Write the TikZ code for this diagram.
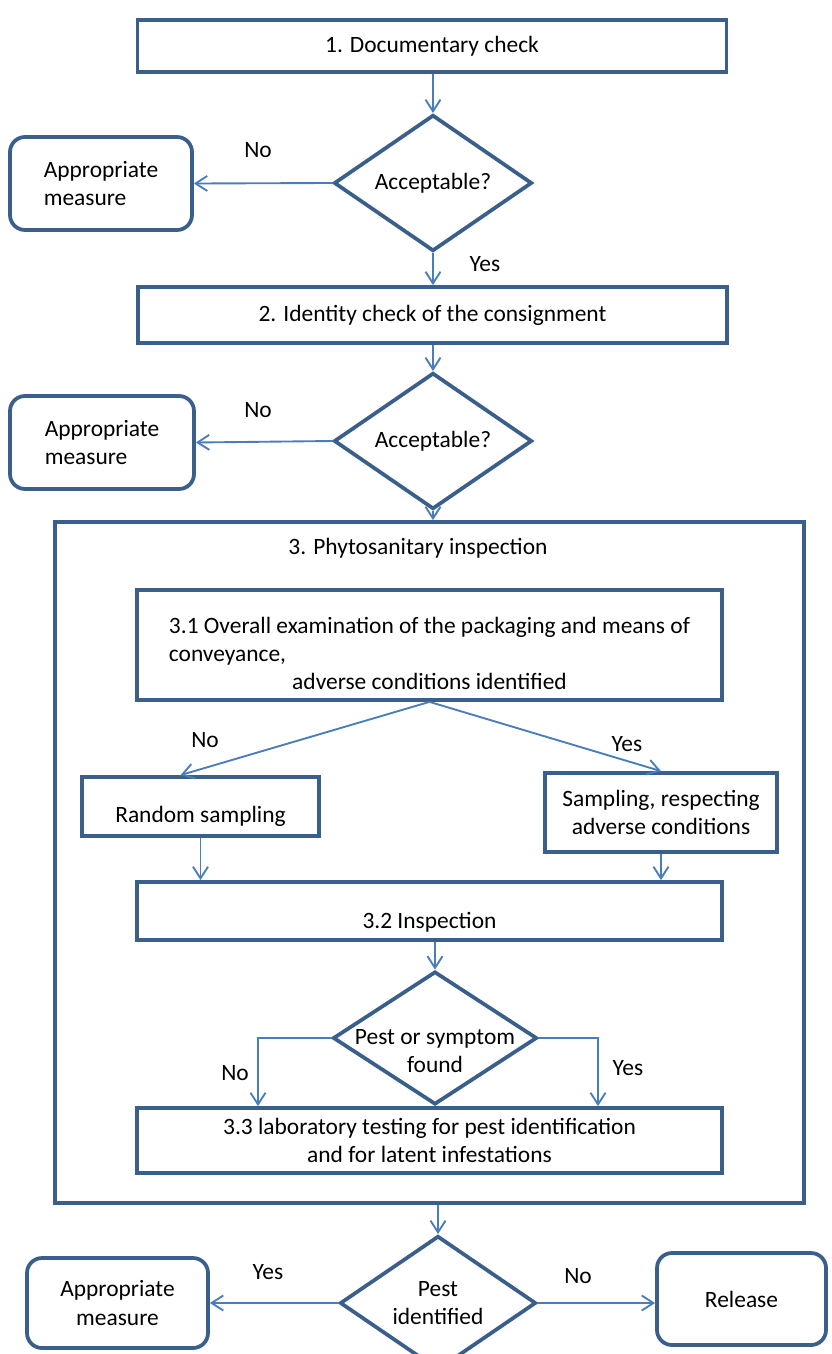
\documentclass[tikz,border=0pt]{standalone}
\usepackage{fontspec}
\setmainfont{Carlito}
\usepackage{xcolor}
\usepackage{tikz}
\usetikzlibrary{arrows.meta,positioning,shapes.geometric}

\definecolor{boxblue}{HTML}{3A5F8B}
\definecolor{flowblue}{HTML}{4A7EBB}
\newcommand{\lowertext}[2]{\raisebox{-#1}[\height][\depth]{#2}}

\begin{document}
\begin{tikzpicture}[
        every node/.style={font=\fontsize{20pt}{24pt}\selectfont},
        box/.style={draw=boxblue, line width=3.2pt, fill=white, inner sep=2pt},
        decision/.style={diamond, draw=boxblue, line width=3.2pt, fill=white, inner sep=0pt},
        measure/.style={draw=boxblue, line width=3.2pt, rounded corners=0.45cm, fill=white},
        flow/.style={draw=flowblue, line width=1.6pt, -{Straight Barb[length=3.5mm,width=4.5mm]}},
    ]
        \useasboundingbox (0,0) rectangle (24.93,-40.62);

        % 1. Documentary check
        \node[box, minimum width=17.67cm, minimum height=1.56cm] (doc) at (12.96,-1.38)
              {1. Documentary check};
        \node[decision, minimum width=5.94cm, minimum height=3.3cm] (acc1) at (12.99,-5.49)
              {Acceptable?};
        \node[measure, minimum width=5.46cm, minimum height=2.79cm, align=left] (meas1) at (3.03,-5.505)
              {Appropriate\\measure};

        % 2. Identity check
        \node[box, minimum width=17.67cm, minimum height=1.68cm] (ident) at (12.975,-9.45)
              {2. Identity check of the consignment};
        \node[decision, minimum width=5.94cm, minimum height=3.18cm] (acc2) at (12.99,-13.23)
              {Acceptable?};
        \node[measure, minimum width=5.52cm, minimum height=2.79cm, align=left] (meas2) at (3.06,-13.275)
              {Appropriate\\measure};

        % 3. Phytosanitary inspection
        \node[box, minimum width=22.47cm, minimum height=20.43cm] (phyto) at (12.885,-25.875) {};
        \node (phytotitle) at (12.54,-16.44) {3. Phytosanitary inspection};

        \node[box, minimum width=17.55cm, minimum height=3.3cm] (exam) at (12.885,-19.35)
              {\lowertext{0.33cm}{\begin{tabular}{@{}l@{}}3.1 Overall examination of the packaging and means of\\
               conveyance,\\
               \multicolumn{1}{@{}c@{}}{adverse conditions identified}\end{tabular}}};
        \node[box, minimum width=7.11cm, minimum height=1.77cm] (random) at (6.015,-24.195)
              {\lowertext{0.3cm}{Random sampling}};
        \node[box, minimum width=6.96cm, minimum height=2.37cm, align=center] (respect) at (19.83,-24.375)
              {Sampling, respecting\\adverse conditions};
        \node[box, minimum width=17.55cm, minimum height=1.74cm] (insp) at (12.885,-27.33)
              {\lowertext{0.33cm}{3.2 Inspection}};
        % the text runs over the border of this diamond
        \node[decision, minimum width=6.12cm, minimum height=3.99cm] (pest) at (13.05,-31.14) {};
        \node[align=center] (pesttext) at ([yshift=-0.4cm]pest.center) {Pest or symptom\\found};
        \node[box, minimum width=17.55cm, minimum height=1.95cm, align=center] (lab) at (12.885,-34.215)
              {3.3 laboratory testing for pest identification\\and for latent infestations};

        % Final decision
        \node[decision, minimum width=5.88cm, minimum height=3.36cm, align=center] (ident2) at (13.14,-39.09)
              {Pest\\identified};
        \node[measure, minimum width=5.43cm, minimum height=2.7cm, align=center] (meas3) at (3.525,-39.09)
              {Appropriate\\measure};
        \node[measure, minimum width=5.07cm, minimum height=2.76cm] (release) at (22.245,-38.97)
              {Release};

        % Arrows
        \draw[flow] (doc.south -| acc1.north) -- (acc1.north);
        \draw[flow] (acc1.west) -- (meas1.east);
        \draw[flow] (acc1.south) -- (acc1.south |- ident.north);
        \draw[flow] (ident.south -| acc2.north) -- (acc2.north);
        \draw[flow] (acc2.west) -- (meas2.east);
        \draw[flow] (acc2.south) -- (acc2.south |- phyto.north);
        \draw[flow] (exam.south) -- ([xshift=-0.6cm]random.north);
        \draw[flow] (exam.south) -- (respect.north);
        \draw[flow] (random.south) -- (random.south |- insp.north);
        \draw[flow] (respect.south) -- (respect.south |- insp.north);
        \draw[flow] (insp.south -| pest.north) -- (pest.north);
        \draw[flow] (pest.west) -| ([xshift=-5.145cm]lab.north);
        \draw[flow] (pest.east) -| ([xshift=5.055cm]lab.north);
        \draw[flow] (phyto.south -| ident2.north) -- (ident2.north);
        \draw[flow] (ident2.west) -- (meas3.east);
        \draw[flow] (ident2.east) -- (ident2.east -| release.west);

        % Labels
        \node (no1) at (7.74,-4.5) {No};
        \node (yes1) at (14.55,-7.92) {Yes};
        \node (no2) at (7.74,-12.3) {No};
        \node (no3) at (6.15,-22.2) {No};
        \node (yes3) at (18.81,-22.32) {Yes};
        \node (no4) at (7.05,-32.19) {No};
        \node (yes4) at (18.84,-32.04) {Yes};
        \node (yes5) at (8.04,-38.16) {Yes};
        \node (no5) at (17.34,-38.28) {No};
    \end{tikzpicture}
\end{document}
